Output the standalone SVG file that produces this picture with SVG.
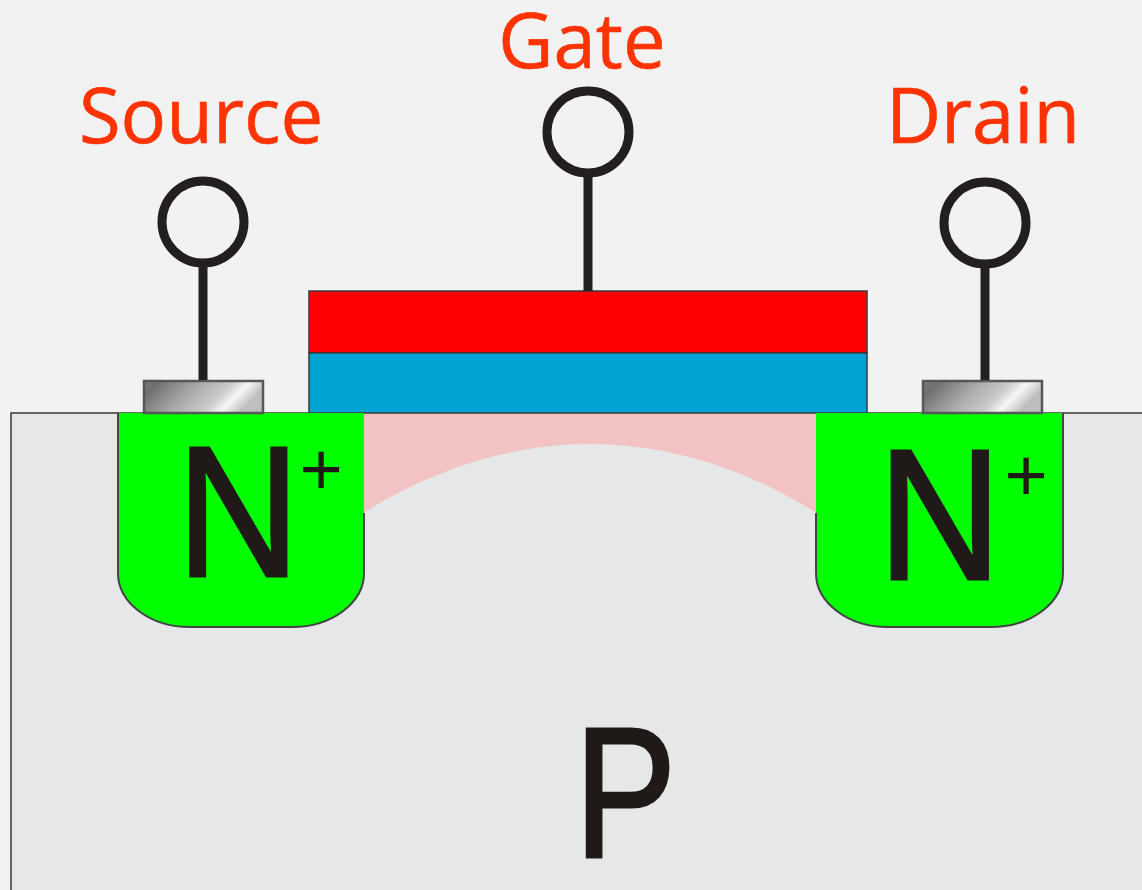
<svg xmlns="http://www.w3.org/2000/svg" width="1142" height="890" viewBox="0 0 1142 890">
<style>
.lbl{font-family:"Open Sans","Noto Sans",sans-serif;fill:#ff3300;stroke:#ff3300;stroke-width:.6;font-size:76px}
.big{font-family:"Liberation Sans",Arial,sans-serif;fill:#1f1a17;stroke:#1f1a17;stroke-width:3;font-size:186px;letter-spacing:-8px}
.plus{font-family:"Liberation Sans",Arial,sans-serif;fill:#1f1a17;font-size:74px;text-anchor:middle}
.wire{stroke:#231f20;stroke-width:9;fill:none}
.term{stroke:#231f20;stroke-width:9;fill:#f2f2f2}
.edge{stroke:#3a3a3a;stroke-width:1.5}
.metal{stroke:#57575a;stroke-width:2.5;fill:url(#metal)}
.nw{fill:#00ff00}
.nwl{fill:none;stroke:#444;stroke-width:2}
</style>
<defs>
<linearGradient id="metal" x1="0" y1="0" x2="1" y2="0.27">
<stop offset="0" stop-color="#7a7c7d"/><stop offset="0.12" stop-color="#6d6f70"/><stop offset="0.45" stop-color="#a9aaab"/><stop offset="0.7" stop-color="#c9caca"/><stop offset="0.84" stop-color="#f6f6f6"/><stop offset="1" stop-color="#bdbebe"/>
</linearGradient>
</defs>
<rect width="1142" height="890" fill="#f2f2f2"/>
<g id="substrate">
<rect x="11" y="413" width="1140" height="490" fill="#e6e7e8" stroke="#3a3a3a" stroke-width="1.5"/>
<text class="big" transform="translate(574.5 856.5) scale(.82 1)">P</text>
</g>
<g id="channel"><path d="M360 413H820V515C750 470 670 444 590 444C510 444 430 470 360 515Z" fill="#f3c2c2"/></g>
<g id="gate-stack">
<rect class="edge" x="309" y="291" width="558" height="62" fill="#ff0000"/>
<rect class="edge" x="309" y="353" width="558" height="60" fill="#00a3d3"/>
</g>
<g id="source-region">
<path class="nw" d="M118 413H364V573A72 54 0 0 1 292 627H190A72 54 0 0 1 118 573Z"/>
<path class="nwl" d="M364 513V573A72 54 0 0 1 292 627H190A72 54 0 0 1 118 573V413"/>
<text class="big" transform="translate(176.5 575.5) scale(.92 1)">N</text>
<text class="plus" x="321" y="495">+</text>
</g>
<g id="drain-region">
<path class="nw" d="M816 413H1063V573A72 54 0 0 1 991 627H888A72 54 0 0 1 816 573Z"/>
<path class="nwl" d="M816 513V573A72 54 0 0 0 888 627H991A72 54 0 0 0 1063 573V413"/>
<text class="big" transform="translate(878 578.5) scale(.92 1)">N</text>
<text class="plus" x="1026" y="501">+</text>
</g>
<g id="source-contact"><rect class="metal" x="144" y="381" width="119" height="32"/></g>
<g id="drain-contact"><rect class="metal" x="923" y="381" width="119" height="32"/></g>
<g id="connectors">
<line class="wire" x1="203" y1="264" x2="203" y2="380"/>
<line class="wire" x1="588" y1="174" x2="588" y2="291"/>
<line class="wire" x1="985" y1="265" x2="985" y2="380"/>
</g>
<g id="source-terminal"><circle class="term" cx="203" cy="222" r="41"/><text class="lbl" x="201" y="143" text-anchor="middle">Source</text></g>
<g id="gate-terminal"><circle class="term" cx="588" cy="132" r="41"/><text class="lbl" x="582" y="68" text-anchor="middle">Gate</text></g>
<g id="drain-terminal"><circle class="term" cx="985" cy="223" r="41"/><text class="lbl" x="983" y="143" text-anchor="middle">Drain</text></g>
</svg>
